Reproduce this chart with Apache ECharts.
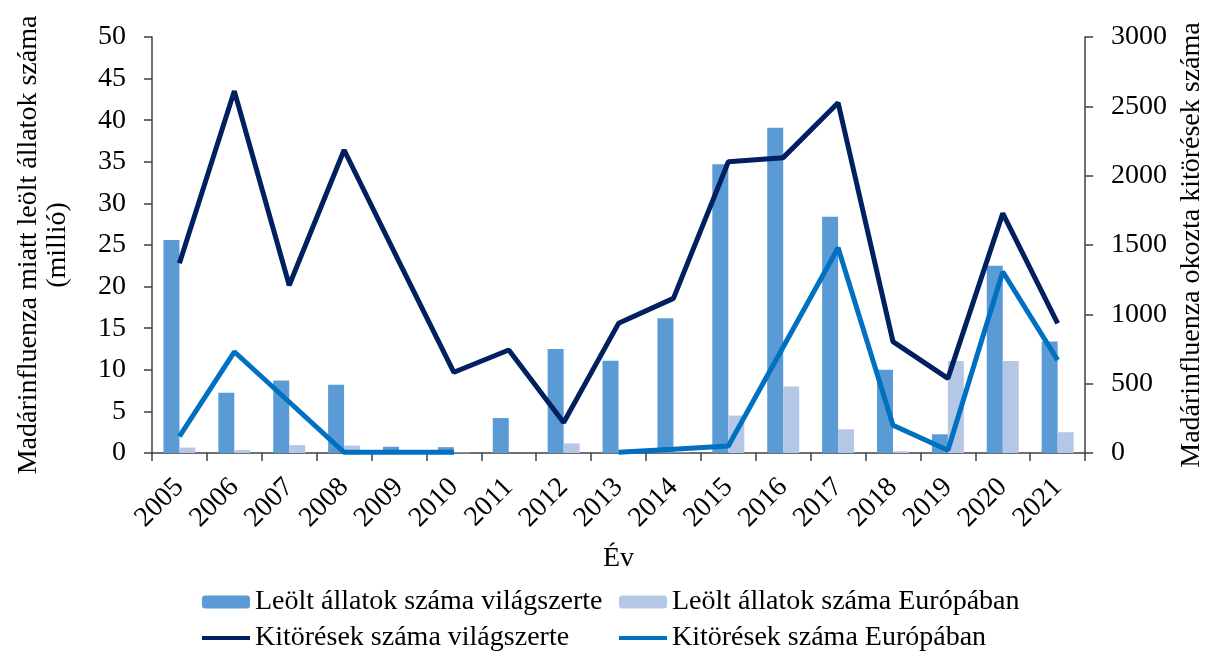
<!DOCTYPE html>
<html>
<head>
<meta charset="utf-8">
<script src="https://cdn.jsdelivr.net/npm/echarts@6/dist/echarts.min.js"></script>
<style>
  html, body { margin: 0; padding: 0; background: #fff; }
  #chart { width: 1214px; height: 656px; }
</style>
</head>
<body>
<div id="chart"></div>
<script>
// evek
const years = ['2005', '2006', '2007', '2008', '2009', '2010', '2011', '2012', '2013',
  '2014', '2015', '2016', '2017', '2018', '2019', '2020', '2021'];

// leolt allatok (millio) - bal tengely
const culledWorld = [25.6, 7.25, 8.7, 8.2, 0.75, 0.7, 4.2, 12.5, 11.1, 16.2, 34.7, 39.1, 28.4, 10.0, 2.25, 22.5, 13.4];
const culledEurope = [0.65, 0.35, 0.95, 0.9, 0.05, 0.05, 0, 1.15, 0.05, 0.05, 4.5, 8.0, 2.85, 0.2, 11.05, 11.05, 2.5];

// kitoresek szama - jobb tengely
const outbreaksWorld = [1368, 2610, 1210, 2185, 1380, 582, 743, 220, 935, 1115, 2100, 2130, 2526, 803, 538, 1728, 935];
const outbreaksEurope = [120, 730, 368, 5, 5, 5, null, null, 5, 27, 50, 765, 1480, 200, 20, 1307, 670];

const leftTicks = { min: 0, max: 50, interval: 5 };
const rightTicks = { min: 0, max: 3000, interval: 500 };

const font = 'Liberation Serif';
const fs = 28;
const axisColor = '#404040';

const chart = echarts.init(document.getElementById('chart'));

const legendText = { fontFamily: font, fontSize: fs, color: '#000' };

const option = {
  backgroundColor: '#fff',
  animation: false,
  grid: { left: 152, right: 124, top: 37, bottom: 203 },
  legend: [
    { data: ['Leölt állatok száma világszerte'], left: 197, top: 583, itemWidth: 48, itemHeight: 13, textStyle: legendText },
    { data: ['Leölt állatok száma Európában'], left: 614, top: 583, itemWidth: 48, itemHeight: 13, textStyle: legendText },
    { data: [{ name: 'Kitörések száma világszerte', icon: 'rect' }], left: 197, top: 619, itemWidth: 48, itemHeight: 4, textStyle: legendText },
    { data: [{ name: 'Kitörések száma Európában', icon: 'rect' }], left: 614, top: 619, itemWidth: 48, itemHeight: 4, textStyle: legendText }
  ],
  xAxis: {
    type: 'category',
    data: years,
    name: 'Év',
    nameLocation: 'middle',
    nameGap: 92,
    nameTextStyle: { fontFamily: font, fontSize: fs, color: '#000' },
    axisLine: { lineStyle: { color: axisColor, width: 1.5 } },
    axisTick: { show: true, length: 8, alignWithLabel: false, lineStyle: { color: axisColor, width: 1.5 } },
    axisLabel: { rotate: 45, margin: 30, fontFamily: font, fontSize: fs, color: '#000', interval: 0 }
  },
  yAxis: [
    {
      type: 'value',
      min: leftTicks.min,
      max: leftTicks.max,
      interval: leftTicks.interval,
      name: 'Madárinfluenza miatt leölt állatok száma\n(millió)',
      nameLocation: 'middle',
      nameRotate: 90,
      nameGap: 80,
      nameTextStyle: { fontFamily: font, fontSize: fs, color: '#000', lineHeight: 29, align: 'center' },
      axisLine: { show: true, lineStyle: { color: axisColor, width: 1.5 } },
      axisTick: { show: true, length: 8, lineStyle: { color: axisColor, width: 1.5 } },
      axisLabel: { margin: 26, fontFamily: font, fontSize: fs, color: '#000' },
      splitLine: { show: false }
    },
    {
      type: 'value',
      min: rightTicks.min,
      max: rightTicks.max,
      interval: rightTicks.interval,
      name: 'Madárinfluenza okozta kitörések száma',
      nameLocation: 'middle',
      nameRotate: 90,
      nameGap: 90,
      nameTextStyle: { fontFamily: font, fontSize: fs, color: '#000' },
      axisLine: { show: true, lineStyle: { color: axisColor, width: 1.5 } },
      axisTick: { show: true, length: 8, lineStyle: { color: axisColor, width: 1.5 } },
      axisLabel: { margin: 26, fontFamily: font, fontSize: fs, color: '#000', formatter: v => String(v) },
      splitLine: { show: false }
    }
  ],
  series: [
    {
      name: 'Leölt állatok száma világszerte',
      type: 'bar',
      yAxisIndex: 0,
      barWidth: 16,
      barGap: '0%',
      itemStyle: { color: '#5B9BD5' },
      data: culledWorld
    },
    {
      name: 'Leölt állatok száma Európában',
      type: 'bar',
      yAxisIndex: 0,
      barWidth: 16,
      barGap: '0%',
      itemStyle: { color: '#B4C7E7' },
      data: culledEurope
    },
    {
      name: 'Kitörések száma világszerte',
      type: 'line',
      yAxisIndex: 1,
      symbol: 'none',
      itemStyle: { color: '#002060' },
      lineStyle: { color: '#002060', width: 5 },
      z: 5,
      data: outbreaksWorld
    },
    {
      name: 'Kitörések száma Európában',
      type: 'line',
      yAxisIndex: 1,
      symbol: 'none',
      itemStyle: { color: '#0070C0' },
      lineStyle: { color: '#0070C0', width: 5 },
      z: 5,
      data: outbreaksEurope
    }
  ]
};

chart.setOption(option);
</script>
</body>
</html>
